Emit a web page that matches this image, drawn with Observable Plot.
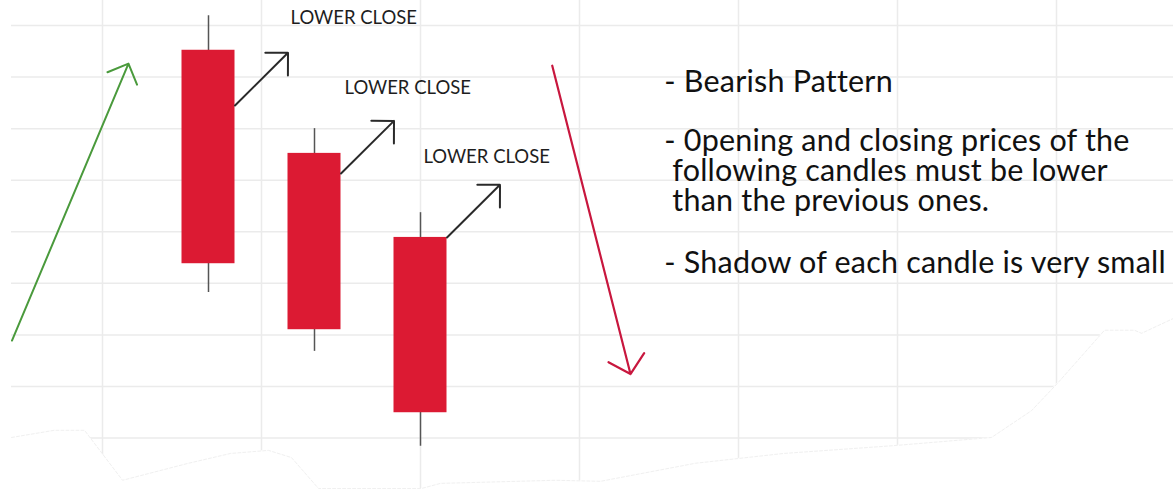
<!DOCTYPE html>
<html>
<head>
<meta charset="utf-8">
<script src="https://cdn.jsdelivr.net/npm/d3@7"></script>
<script src="https://cdn.jsdelivr.net/npm/@observablehq/plot@0.6"></script>
<style>
  html, body { margin: 0; padding: 0; background: #fff; }
  #chart svg { display: block; }
</style>
</head>
<body>
<div id="chart"></div>
<script>
// ---- data ----
const candleIndex = [1, 2, 3];
const openPrice  = [185.2, 165.2, 148.9];
const closePrice = [143.8, 131.0, 114.9];
const highPrice  = [191.9, 170.0, 153.7];
const lowPrice   = [138.2, 126.8, 108.4];
const arrowFrom  = [174.5, 161.3, 148.9];
const candleLabel = "LOWER CLOSE";

const notes = [
  "- Bearish Pattern",
  "- 0pening and closing prices of the\n\u00a0following candles must be lower\n\u00a0than the previous ones.",
  "- Shadow of each candle is very small"
];

// faint background trace
const ghostX = [-0.858, -0.453, -0.170, 0.189, 0.811, 1.208, 1.566, 1.783, 2.038, 3.009, 3.189, 4.274, 4.698, 5.594, 6.425, 7.453, 8.387, 8.764, 9.009, 9.453, 9.736, 9.802, 10.104];
const ghostY = [110.1, 111.5, 111.5, 101.8, 105.1, 107.0, 107.6, 106.2, 100.2, 100.2, 101.2, 101.8, 101.6, 105.1, 107.0, 108.5, 110.1, 115.3, 120.6, 130.9, 130.9, 130.3, 133.2];

const gridX = [0, 1.5, 3, 4.5, 6, 7.5, 9];
const gridY = [100, 110, 120, 130, 140, 150, 160, 170, 180, 190];

// ---- derived tables ----
const candles = candleIndex.map((i, k) => ({
  i, open: openPrice[k], close: closePrice[k], high: highPrice[k], low: lowPrice[k], from: arrowFrom[k]
}));
const ghost = ghostX.map((x, k) => ({x, y: ghostY[k]}));

const xDomain = [-0.8585, 10.1038];
const yDomain = [98.46, 194.85];

const labelPos = [
  {x: 1.774, y: 191.5},
  {x: 2.283, y: 177.8},
  {x: 3.028, y: 164.4}
];

const noteSize = 30.5;

const chart = Plot.plot({
  width: 1173,
  height: 497,
  marginLeft: 11,
  marginRight: 0,
  marginTop: 0,
  marginBottom: 0,
  x: {domain: xDomain, axis: null},
  y: {domain: yDomain, axis: null},
  style: {background: "#fff", fontFamily: "Lato"},
  marks: [
    Plot.ruleY(gridY, {stroke: "#ebebeb", strokeWidth: 1.5}),
    Plot.ruleX(gridX, {stroke: "#ebebeb", strokeWidth: 1.5}),
    Plot.areaY(ghost, {x: "x", y1: yDomain[0], y2: "y", fill: "#fff", curve: "linear"}),
    Plot.line(ghost, {x: "x", y: "y", stroke: "#f0f0f0", strokeWidth: 1, strokeDasharray: "3,2"}),
    // wicks
    Plot.ruleX(candles, {x: "i", y1: "low", y2: "high", stroke: "#555", strokeWidth: 1.5}),
    // bodies
    Plot.rect(candles, {x1: d => d.i - 0.25, x2: d => d.i + 0.25, y1: "open", y2: "close", fill: "#dc1a33"}),
    // black arrows
    Plot.arrow(candles, {
      x1: d => d.i + 0.25, y1: "from",
      x2: d => d.i + 0.75, y2: d => d.from + 10.2,
      stroke: "#2a2a2a", strokeWidth: 2, headLength: 17, headAngle: 90
    }),
    // labels
    Plot.text(candles, {
      x: (d, k) => labelPos[k].x, y: (d, k) => labelPos[k].y,
      text: () => candleLabel, textAnchor: "start", lineAnchor: "middle",
      fontSize: 18.5, fill: "#1e1e1e"
    }),
    // trend arrows
    Plot.arrow([{x1: -0.854, y1: 128.9, x2: 0.245, y2: 182.6}], {
      x1: "x1", y1: "y1", x2: "x2", y2: "y2",
      stroke: "#4a9a3c", strokeWidth: 2, headLength: 17, headAngle: 90
    }),
    Plot.arrow([{x1: 4.243, y1: 182.2, x2: 4.981, y2: 122.4}], {
      x1: "x1", y1: "y1", x2: "x2", y2: "y2",
      stroke: "#c8173e", strokeWidth: 2.2, headLength: 17, headAngle: 95
    }),
    // notes
    Plot.text([notes[0]], {x: 5.30, y: 177.2, text: d => d, textAnchor: "start", lineAnchor: "bottom", fontSize: noteSize, fill: "#111"}),
    Plot.text([notes[1]], {x: 5.30, y: 169.77, text: d => d, textAnchor: "start", lineAnchor: "top", lineHeight: 30 / noteSize, fontSize: noteSize, fill: "#111"}),
    Plot.text([notes[2]], {x: 5.30, y: 142.0, text: d => d, textAnchor: "start", lineAnchor: "bottom", fontSize: noteSize, fill: "#111"})
  ]
});

d3.select(chart).selectAll(`g[font-size="${noteSize}"]`).attr("letter-spacing", "0.2");

document.getElementById("chart").appendChild(chart);
</script>
</body>
</html>
